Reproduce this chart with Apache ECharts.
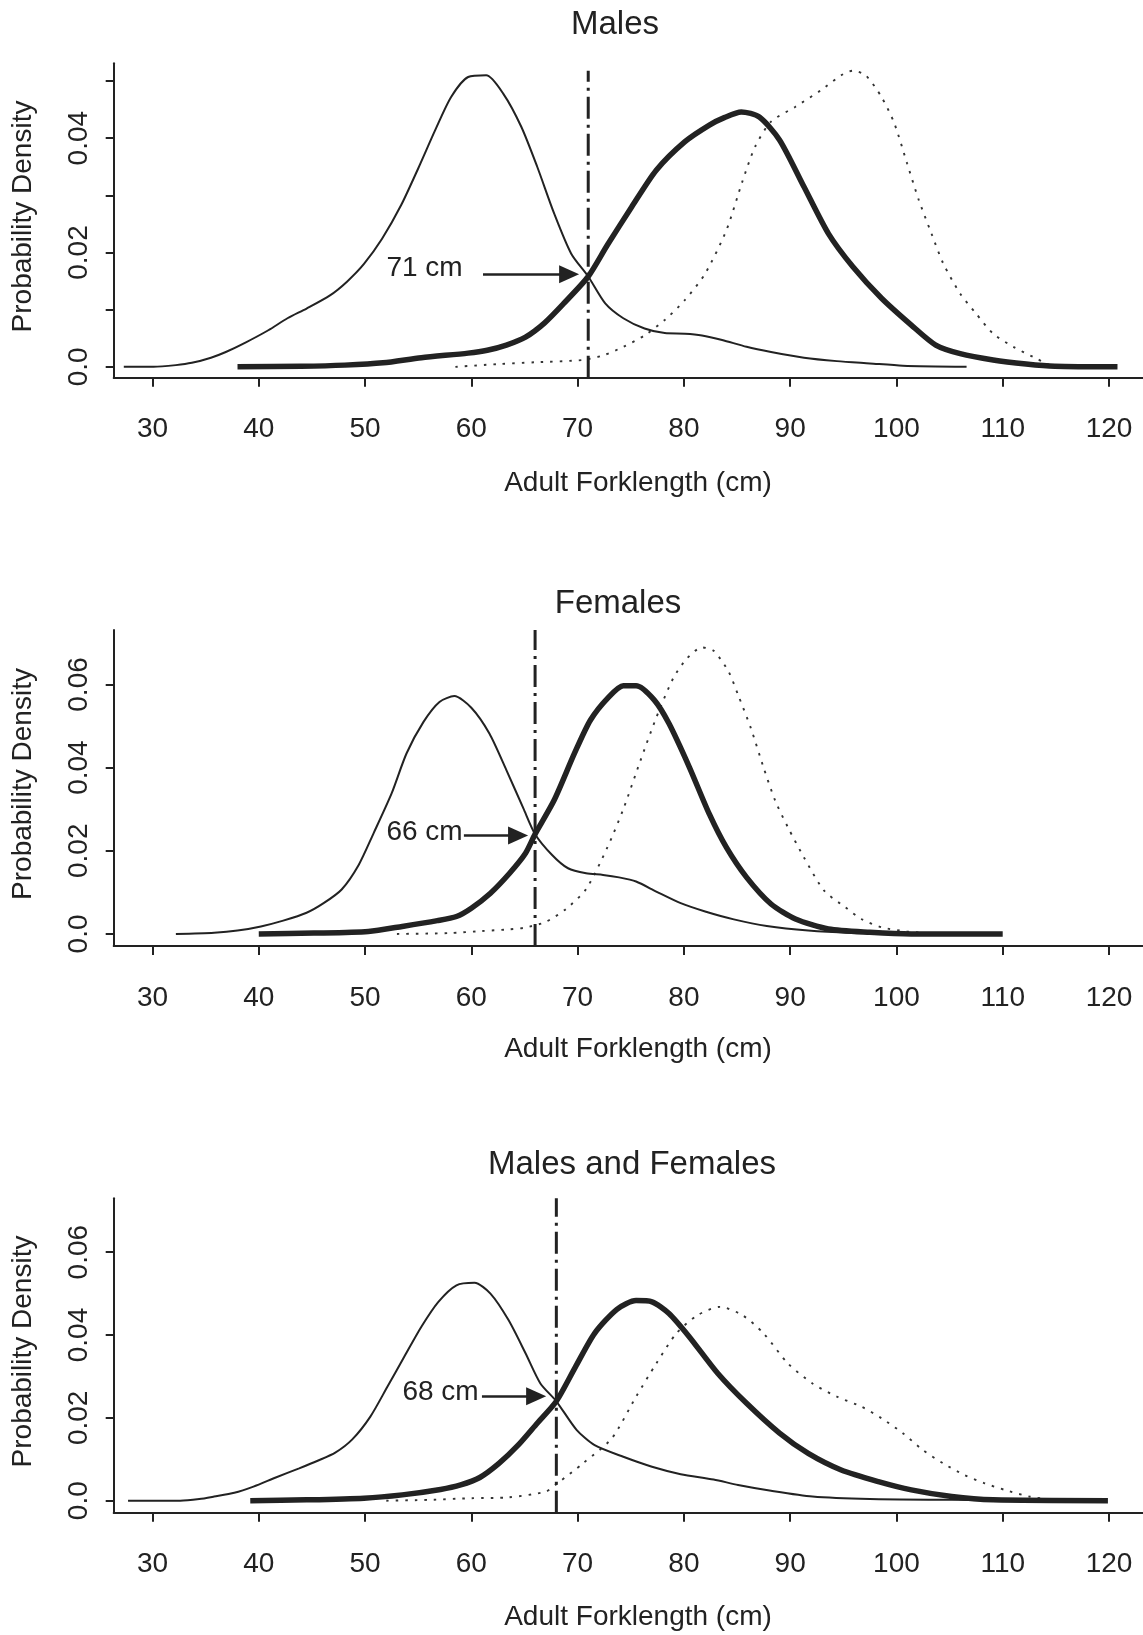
<!DOCTYPE html>
<html>
<head>
<meta charset="utf-8">
<script src="https://cdn.jsdelivr.net/npm/echarts@6/dist/echarts.min.js"></script>
<style>
html, body { margin: 0; padding: 0; background: #fff; }
#chart { width: 1143px; height: 1635px; }
</style>
</head>
<body>
<div id="chart"></div>
<script>
// panel titles and cut-off lengths (cm)
var panelTitles = ['Males', 'Females', 'Males and Females'];
var cutoffs = [71, 66, 68];
var xTicks = [30, 40, 50, 60, 70, 80, 90, 100, 110, 120];
var yTicksMales = [0, 0.01, 0.02, 0.03, 0.04, 0.05];
var yLabelsMales = [0, 0.02, 0.04];
var yTicksOther = [0, 0.02, 0.04, 0.06];

// density curves, [length, density]
var malesThin = [[27.3,0],[30.1,0],[32.2,0.0003],[33.7,0.0007],[35.5,0.0016],[36.9,0.0026],[38.7,0.0042],[40.9,0.0064],[42.7,0.0085],[44.5,0.0102],[46.7,0.0125],[48.3,0.0149],[49.9,0.018],[51.6,0.0224],[53.4,0.0283],[55,0.0347],[56.6,0.0414],[58.1,0.0472],[59.7,0.0507],[61.4,0.051],[63,0.0478],[64.7,0.042],[66.2,0.035],[67.8,0.0268],[69.4,0.0198],[71,0.0158],[72.6,0.0111],[74.3,0.0085],[76.3,0.0067],[78.2,0.0059],[80.1,0.0058],[81.7,0.0055],[83.6,0.0047],[85.9,0.0035],[88.2,0.0026],[91.3,0.0016],[94.4,0.001],[97.5,0.0006],[100.6,0.0002],[106.6,0]];
var malesThick = [[38,0],[44,0.0001],[48.1,0.0003],[51.7,0.0007],[55.3,0.0016],[59.7,0.0024],[61.5,0.0029],[63.3,0.0038],[65.1,0.0052],[66.9,0.0077],[68.7,0.0111],[71,0.0158],[72.8,0.0213],[75.1,0.028],[77.4,0.0344],[80.1,0.0394],[82.4,0.0423],[83.8,0.0436],[85.4,0.0446],[87.1,0.0437],[89,0.0397],[91.3,0.0315],[93.6,0.0233],[95.9,0.0175],[98.6,0.012],[101.4,0.0073],[103.7,0.0038],[106,0.0023],[109.1,0.0012],[112.2,0.0005],[114.9,0.0001],[120.8,0]];
var malesDotted = [[58.5,0],[62.7,0.0005],[66,0.0008],[70.5,0.0012],[72.4,0.002],[74.3,0.0035],[76.3,0.0055],[78.2,0.0082],[80.1,0.0117],[82,0.0163],[84,0.0239],[85.5,0.0324],[86.7,0.0385],[88.2,0.0429],[90.5,0.0455],[92.9,0.0484],[94.8,0.051],[95.9,0.0518],[97.1,0.051],[98.6,0.0472],[99.8,0.0426],[101,0.0356],[102.1,0.0292],[103.3,0.0233],[104.4,0.0181],[106,0.0128],[107.5,0.0093],[109.1,0.0058],[111,0.0035],[112.9,0.0017],[114.1,0.0006],[114.9,0]];

var femalesThin = [[32.2,0],[35.8,0.0003],[38,0.0008],[40.2,0.0018],[42.3,0.0032],[44.5,0.0051],[46.1,0.0074],[47.8,0.0107],[49.4,0.0166],[50.8,0.0242],[52.5,0.0338],[53.9,0.0434],[55.5,0.051],[57,0.0558],[58.4,0.0572],[60,0.0544],[61.7,0.0482],[63.3,0.0394],[64.9,0.0302],[66,0.024],[67.6,0.019],[69.1,0.0158],[70.8,0.0146],[72.4,0.0142],[73.9,0.0136],[75.5,0.0126],[77.4,0.0102],[79.7,0.0074],[82,0.0054],[84.7,0.0035],[87.8,0.0019],[91.7,0.0008],[95.6,0.0003],[101.4,0.0001],[108,0]];
var femalesThick = [[40,0],[45.2,0.0002],[50.3,0.0006],[53.5,0.0018],[56.8,0.0032],[58.6,0.0042],[60,0.0062],[61.8,0.0098],[63.6,0.0146],[65.1,0.0194],[66,0.024],[67.8,0.0322],[69.7,0.0434],[71.2,0.0514],[72.9,0.0569],[74.3,0.0597],[75.5,0.0597],[77.2,0.0563],[78.6,0.0506],[80.5,0.0402],[82.4,0.0288],[84,0.0208],[85.9,0.0136],[88.2,0.0072],[90.5,0.0036],[93.6,0.0012],[97.5,0.0004],[101.4,0],[110,0]];
var femalesDotted = [[53,0],[57.9,0.0002],[61,0.0007],[63.5,0.0011],[65,0.0015],[67,0.0029],[68.9,0.006],[70.8,0.0108],[72.8,0.0208],[74.3,0.03],[75.9,0.0416],[77.4,0.052],[79,0.0615],[80.3,0.0663],[81.7,0.0689],[82.8,0.0681],[84.2,0.0631],[85.1,0.0575],[86.3,0.0495],[87.5,0.04],[88.6,0.032],[89.8,0.0256],[91.3,0.0184],[93.2,0.0104],[95.2,0.0064],[96.7,0.0036],[98.6,0.0016],[101,0.0006],[104,0]];

var bothThin = [[27.7,0],[32.6,0],[34.4,0.0004],[35.8,0.001],[37.7,0.0019],[39.5,0.0034],[41.6,0.0056],[43.8,0.0078],[45.6,0.0097],[47.2,0.0116],[48.8,0.0148],[50.5,0.0203],[52.1,0.0275],[53.7,0.0348],[55.3,0.042],[56.9,0.048],[58.6,0.052],[60.3,0.0526],[61.8,0.05],[63.5,0.0436],[65.1,0.0356],[66.5,0.0283],[68,0.024],[69.9,0.0171],[71.6,0.0134],[74.3,0.0106],[77,0.0082],[79.7,0.0064],[82.8,0.0051],[85.1,0.0038],[88.2,0.0024],[92.1,0.001],[97.5,0.0004],[105.2,0.0002],[113,0]];
var bothThick = [[39.2,0],[44.5,0.0002],[49.9,0.0006],[53.5,0.0014],[57.1,0.0027],[59,0.0038],[60.8,0.0056],[62.6,0.009],[64.4,0.0134],[66.2,0.0187],[68,0.024],[69.8,0.0323],[71.6,0.0404],[73.7,0.0462],[75.5,0.0483],[77,0.048],[78.6,0.0452],[80.5,0.0396],[83.2,0.0307],[85.9,0.0235],[89,0.0163],[91.7,0.0114],[94.8,0.0074],[98.3,0.0046],[101.4,0.0026],[105.2,0.001],[109.1,0.0002],[119.9,0]];
var bothDotted = [[52,0],[56,0.0002],[60,0.0006],[63.5,0.0008],[67,0.0022],[68.1,0.0042],[70.5,0.009],[73.2,0.015],[75.5,0.0251],[77.4,0.0331],[79.3,0.0404],[81.3,0.0448],[83.4,0.0468],[85.5,0.0448],[87.5,0.0404],[89.8,0.0331],[92.1,0.0283],[94.4,0.0251],[96.7,0.0227],[98.6,0.0199],[100.6,0.0163],[102.5,0.0122],[104.4,0.009],[106.4,0.0062],[108.3,0.0042],[110.2,0.0026],[112.5,0.001],[114.9,0.0002],[116,0]];

// annotation: label position and arrow [xStart, xEnd, y]
var labelPos = [[55.6, 0.0172], [55.6, 0.0245], [57.1, 0.0262]];
var arrows = [[61.1, 69.2, 0.0162], [59.3, 64.4, 0.0237], [61.0, 66.1, 0.0252]];
var cutTops = [0.0518, 0.0731, 0.073];

var curves = [
    [malesThin, malesThick, malesDotted],
    [femalesThin, femalesThick, femalesDotted],
    [bothThin, bothThick, bothDotted]
];

var INK = '#222';
var FONT = "'Liberation Sans', Arial, sans-serif";

// plot regions in px
var panels = [
    { top: 63.3, bottom: 377.7, yMin: -0.0019, yMax: 0.0531, ticks: yTicksMales, labels: yLabelsMales, titleY: 25, titleX: 615, xlabY: 483 },
    { top: 630, bottom: 946, yMin: -0.0029, yMax: 0.0731, ticks: yTicksOther, labels: yTicksOther, titleY: 604, titleX: 618, xlabY: 1049 },
    { top: 1198.3, bottom: 1512.7, yMin: -0.0029, yMax: 0.073, ticks: yTicksOther, labels: yTicksOther, titleY: 1165, titleX: 632, xlabY: 1617 }
];

var chart = echarts.init(document.getElementById('chart'));

var grids = [], xAxes = [], yAxes = [], series = [], graphics = [];

panels.forEach(function (p, i) {
    // x axis runs to the right edge of the page, as in the cropped original
    grids.push({ left: 113.7, right: 0, top: p.top, height: p.bottom - p.top, outerBoundsMode: 'none' });

    xAxes.push({
        type: 'value', gridIndex: i, min: 26.35, max: 123.2,
        axisLine: { onZero: false, lineStyle: { color: INK, width: 2 } },
        axisTick: { customValues: xTicks, length: 9, lineStyle: { color: INK, width: 2 } },
        axisLabel: { customValues: xTicks, margin: 38, color: INK, fontSize: 28, fontFamily: FONT },
        splitLine: { show: false }
    });

    yAxes.push({
        type: 'value', gridIndex: i, min: p.yMin, max: p.yMax,
        axisLine: { show: true, lineStyle: { color: INK, width: 2 } },
        axisTick: { customValues: p.ticks, length: 8, lineStyle: { color: INK, width: 2 } },
        axisLabel: {
            customValues: p.labels, rotate: 90, margin: 20, color: INK, fontSize: 28, fontFamily: FONT,
            formatter: function (v) { return v === 0 ? '0.0' : v.toFixed(2); }
        },
        splitLine: { show: false }
    });

    var c = curves[i];
    series.push({
        type: 'line', xAxisIndex: i, yAxisIndex: i, data: c[2], showSymbol: false, smooth: 0.25,
        lineStyle: { color: '#333', width: 1.9, type: [2.5, 7] }, z: 2
    });
    series.push({
        type: 'line', xAxisIndex: i, yAxisIndex: i, data: c[0], showSymbol: false, smooth: 0.25,
        lineStyle: { color: INK, width: 2 }, z: 3
    });
    series.push({
        type: 'line', xAxisIndex: i, yAxisIndex: i, data: c[1], showSymbol: false, smooth: 0.25,
        lineStyle: { color: INK, width: 5.5, join: 'round' }, z: 4
    });

    // cut-off line with arrow and label
    var a = arrows[i];
    series.push({
        type: 'line', xAxisIndex: i, yAxisIndex: i, showSymbol: false, silent: true,
        data: [[cutoffs[i], p.yMin], [cutoffs[i], cutTops[i]]],
        lineStyle: { color: INK, width: 3, type: [22, 6, 3, 6] }, z: 5,
        markLine: {
            silent: true, symbol: ['none', 'triangle'], symbolSize: [18, 20],
            label: { show: false },
            lineStyle: { color: INK, width: 2.5, type: 'solid' },
            data: [[{ coord: [a[0], a[2]] }, { coord: [a[1], a[2]] }]]
        },
        markPoint: {
            silent: true, symbol: 'circle', symbolSize: 0,
            label: {
                show: true, position: 'inside', formatter: cutoffs[i] + ' cm',
                color: INK, fontSize: 28, fontFamily: FONT
            },
            data: [{ coord: labelPos[i] }]
        }
    });

    graphics.push({
        type: 'text', x: p.titleX, y: p.titleY,
        style: { text: panelTitles[i], fill: INK, font: '33px ' + FONT, textAlign: 'center', textVerticalAlign: 'middle', align: 'center', verticalAlign: 'middle' }
    });
    graphics.push({
        type: 'text', x: 638, y: p.xlabY,
        style: { text: 'Adult Forklength (cm)', fill: INK, font: '28px ' + FONT, textAlign: 'center', textVerticalAlign: 'middle', align: 'center', verticalAlign: 'middle' }
    });
    graphics.push({
        type: 'text', x: 23, y: (p.top + p.bottom) / 2 - 4, rotation: Math.PI / 2,
        style: { text: 'Probability Density', fill: INK, font: '28px ' + FONT, textAlign: 'center', textVerticalAlign: 'middle', align: 'center', verticalAlign: 'middle' }
    });
});

chart.setOption({
    backgroundColor: '#fff',
    animation: false,
    grid: grids,
    xAxis: xAxes,
    yAxis: yAxes,
    series: series,
    graphic: graphics
});
</script>
</body>
</html>
